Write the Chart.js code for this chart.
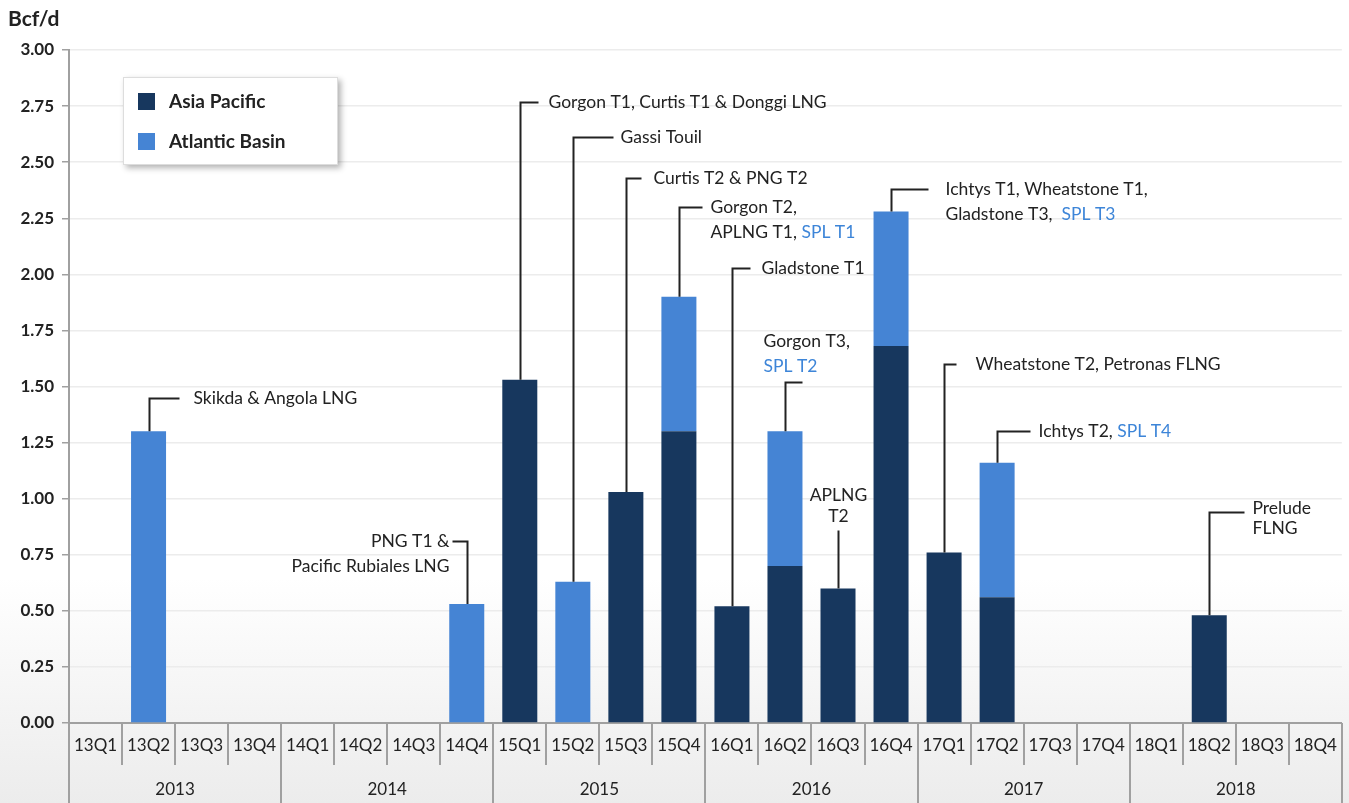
<!DOCTYPE html>
<html>
<head>
<meta charset="utf-8">
<script src="https://cdn.jsdelivr.net/npm/chart.js@4"></script>
<style>
  html, body { margin: 0; padding: 0; }
  body {
    width: 1349px; height: 803px; overflow: hidden; position: relative;
    background: linear-gradient(to bottom, #ffffff 0%, #ffffff 72%, #ececec 100%);
    font-family: Lato, "Noto Sans", sans-serif;
  }
  #wrap { position: absolute; left: 0; top: 0; width: 1349px; height: 803px; }
  #unit { position: absolute; left: 8px; top: 5px; font-weight: bold; font-size: 21px; color: #222; }
  #legend {
    position: absolute; left: 123px; top: 77px; width: 215px; height: 88px;
    background: #fff; border: 1px solid #ddd; box-sizing: border-box;
    box-shadow: 3px 3px 6px rgba(0,0,0,0.3);
  }
  .item { position: absolute; left: 14px; font-weight: bold; font-size: 19px; color: #222; height: 22px; line-height: 22px; }
  .item span.sw { display: inline-block; width: 17px; height: 17px; vertical-align: -2px; margin-right: 14px; }
</style>
</head>
<body>
<div id="wrap"><canvas id="chart"></canvas></div>
<div id="unit">Bcf/d</div>
<div id="legend"></div>
<script>
// quarters along the bottom, years in the second row
let quarters = ['13Q1', '13Q2', '13Q3', '13Q4', '14Q1', '14Q2', '14Q3', '14Q4',
                '15Q1', '15Q2', '15Q3', '15Q4', '16Q1', '16Q2', '16Q3', '16Q4',
                '17Q1', '17Q2', '17Q3', '17Q4', '18Q1', '18Q2', '18Q3', '18Q4'];
let years = ['2013', '2014', '2015', '2016', '2017', '2018'];

// Bcf/d, stacked
let asiaPacific = [null, null, null, null, null, null, null, null,
                   1.53, null, 1.03, 1.30, 0.52, 0.70, 0.60, 1.68,
                   0.76, 0.56, null, null, null, 0.48, null, null];
let atlanticBasin = [null, 1.30, null, null, null, null, null, 0.53,
                     null, 0.63, null, 0.60, null, 0.60, null, 0.60,
                     null, 0.60, null, null, null, null, null, null];

let seriesNames = ['Asia Pacific', 'Atlantic Basin'];
let seriesColors = ['#17375e', '#4584d4'];
let highlightColor = '#3d85d8';

// project callouts, '|' switches to the highlight colour
let callouts = [
  { q: '13Q2', level: 1.45, kind: 'right', leg: 30, gap: 14, lines: ['Skikda & Angola LNG'] },
  { q: '14Q4', level: 0.81, kind: 'left', leg: 15, gap: 3, lines: ['PNG T1 &', 'Pacific Rubiales LNG'] },
  { q: '15Q1', level: 2.77, kind: 'right', leg: 18, gap: 10, lines: ['Gorgon T1, Curtis T1 & Donggi LNG'] },
  { q: '15Q2', level: 2.61, kind: 'right', leg: 40, gap: 7, lines: ['Gassi Touil'] },
  { q: '15Q3', level: 2.43, kind: 'right', leg: 15, gap: 12, lines: ['Curtis T2 & PNG T2'] },
  { q: '15Q4', level: 2.30, kind: 'right', leg: 23, gap: 8, lines: ['Gorgon T2,', 'APLNG T1, |SPL T1'] },
  { q: '16Q1', level: 2.03, kind: 'right', leg: 18, gap: 11, lines: ['Gladstone T1'] },
  { q: '16Q2', level: 1.52, kind: 'above', leg: 17, dx: -22, lines: ['Gorgon T3,', '|SPL T2'] },
  { q: '16Q3', level: 0.86, kind: 'top', lines: ['APLNG', 'T2'] },
  { q: '16Q4', level: 2.38, kind: 'right', leg: 37, gap: 17, lines: ['Ichtys T1, Wheatstone T1,', 'Gladstone T3,  |SPL T3'] },
  { q: '17Q1', level: 1.60, kind: 'right', leg: 12, gap: 19, lines: ['Wheatstone T2, Petronas FLNG'] },
  { q: '17Q2', level: 1.30, kind: 'right', leg: 33, gap: 8, lines: ['Ichtys T2, |SPL T4'] },
  { q: '18Q2', level: 0.94, kind: 'right', leg: 35, gap: 8, dy: -4, lh: 20, lines: ['Prelude', 'FLNG'] }
];

// html legend
let legendEl = document.getElementById('legend');
seriesNames.forEach(function (name, k) {
  let d = document.createElement('div');
  d.className = 'item';
  d.style.top = (k === 0 ? 12 : 52) + 'px';
  d.innerHTML = '<span class="sw" style="background:' + seriesColors[k] + '"></span>' + name;
  legendEl.appendChild(d);
});

let FONT = 'Lato, "Noto Sans", sans-serif';
let TEXT = '#222';

function drawRich(ctx, str, x, y, align) {
  let parts = str.split('|');
  let total = 0;
  parts.forEach(function (p) { total += ctx.measureText(p).width; });
  let cx = x;
  if (align === 'right') cx = x - total;
  if (align === 'center') cx = x - total / 2;
  ctx.textAlign = 'left';
  parts.forEach(function (p, k) {
    ctx.fillStyle = k % 2 === 1 ? highlightColor : TEXT;
    ctx.fillText(p, cx, y);
    cx += ctx.measureText(p).width;
  });
}

let calloutPlugin = {
  id: 'callouts',
  afterDatasetsDraw: function (chart) {
    let ctx = chart.ctx, x = chart.scales.x, y = chart.scales.y;
    ctx.save();
    ctx.strokeStyle = '#222';
    ctx.lineWidth = 2;
    ctx.font = '17.5px ' + FONT;
    ctx.textBaseline = 'middle';
    callouts.forEach(function (c) {
      let i = quarters.indexOf(c.q);
      let bx = Math.round(x.getPixelForValue(i)) + 0.5;
      let total = (asiaPacific[i] || 0) + (atlanticBasin[i] || 0);
      let by = y.getPixelForValue(total);
      let ly = Math.round(y.getPixelForValue(c.level)) + 0.5;
      ctx.beginPath();
      ctx.moveTo(bx, by);
      ctx.lineTo(bx, ly);
      if (c.kind === 'right' || c.kind === 'above') ctx.lineTo(bx + c.leg, ly);
      if (c.kind === 'left') ctx.lineTo(bx - c.leg, ly);
      ctx.stroke();
      let lh = c.lh || 25;
      c.lines.forEach(function (line, k) {
        if (c.kind === 'right') drawRich(ctx, line, bx + c.leg + c.gap, ly + (c.dy || 0) + k * lh, 'left');
        if (c.kind === 'left') drawRich(ctx, line, bx - c.leg - c.gap, ly + k * lh, 'right');
        if (c.kind === 'above') drawRich(ctx, line, bx + c.dx, ly - 41 + k * lh, 'left');
        if (c.kind === 'top') drawRich(ctx, line, bx, ly - 35 + k * 21, 'center');
      });
    });
    ctx.restore();
  }
};

// separators of the two-row category axis
let axisBoxes = {
  id: 'axisBoxes',
  afterDraw: function (chart) {
    let ctx = chart.ctx, x = chart.scales.x;
    ctx.save();
    ctx.strokeStyle = '#a0a0a0';
    ctx.lineWidth = 2;
    for (let i = 0; i <= quarters.length; i++) {
      let px = Math.round(x.getPixelForValue(i - 0.5));
      let bottom = (i % 4 === 0) ? chart.height : x.top + 42;
      ctx.beginPath();
      ctx.moveTo(px, x.top);
      ctx.lineTo(px, bottom);
      ctx.stroke();
    }
    ctx.restore();
  }
};

let ctx = document.getElementById('chart').getContext('2d');
let chart = new Chart(ctx, {
  type: 'bar',
  data: {
    labels: quarters,
    datasets: [
      { label: seriesNames[0], data: asiaPacific, backgroundColor: seriesColors[0], stack: 's' },
      { label: seriesNames[1], data: atlanticBasin, backgroundColor: seriesColors[1], stack: 's' }
    ]
  },
  options: {
    responsive: true,
    maintainAspectRatio: false,
    animation: false,
    categoryPercentage: 1,
    barPercentage: 0.66,
    layout: { padding: { top: 50, right: 4, left: 0, bottom: 0 } },
    plugins: { legend: { display: false }, tooltip: { enabled: false } },
    scales: {
      x: {
        stacked: true,
        grid: { display: false, drawTicks: false },
        border: { display: true, color: '#a0a0a0', width: 2 },
        ticks: { autoSkip: false, maxRotation: 0, padding: 12, color: TEXT, font: { family: FONT, size: 17 } },
        afterFit: function (s) { s.height = 42; }
      },
      x2: {
        type: 'category',
        position: 'bottom',
        labels: years,
        grid: { display: false, drawTicks: false },
        border: { display: false },
        ticks: { autoSkip: false, maxRotation: 0, padding: 14, color: TEXT, font: { family: FONT, size: 17 } },
        afterFit: function (s) { s.height = 38; }
      },
      y: {
        stacked: true,
        min: 0,
        max: 3,
        ticks: {
          stepSize: 0.25,
          padding: 8,
          color: TEXT,
          font: { family: FONT, size: 17, weight: 'bold' },
          callback: function (v) { return v.toFixed(2); }
        },
        grid: { color: '#ececec', tickColor: '#a0a0a0', tickLength: 7, lineWidth: 1.5 },
        border: { color: '#a0a0a0', width: 2 },
        afterFit: function (s) { s.width = 69; }
      }
    }
  },
  plugins: [calloutPlugin, axisBoxes]
});
</script>
</body>
</html>
